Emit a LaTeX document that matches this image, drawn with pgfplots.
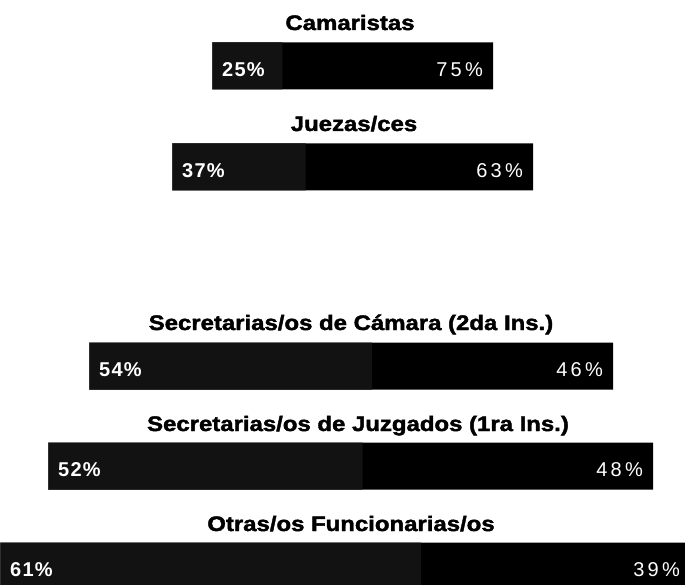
\documentclass[border=0pt]{standalone}
\usepackage{fontspec}
\setmainfont{Liberation Sans}
\newfontfamily\titlefont{Liberation Sans}[UprightFont={* Bold}, FakeStretch=1.14, FakeBold=2]
\newfontfamily\wfont{Liberation Sans}[UprightFont={* Bold}, LetterSpace=6]
\newfontfamily\mfont{Liberation Sans}[LetterSpace=16]
\usepackage{pgfplots}
\usepackage{pgfplotstable}
\pgfplotsset{compat=1.18}
% y: bar centre (px from top); left: left edge; lf: women/men boundary; right: right edge
\pgfplotstableread{
y   left  lf      right  pf  pm
66  212   282.25  493    25  75
167 172   305.57  533    37  63
366 89    371.96  613    54  46
466 48    362.6   653    52  48
566 0     420.9   690    61  39
}\bartab
\begin{document}
\begin{tikzpicture}
\begin{axis}[
  xbar, bar shift=0pt,
  bar width=47,
  scale only axis,
  width=690pt, height=585pt,
  xmin=0, xmax=690, ymin=0, ymax=585,
  y dir=reverse,
  hide axis,
  /pgf/number format/assume math mode=true,
]
% men segment (whole bar, black)
\addplot[draw=none, fill=black,
  point meta=explicit,
  nodes near coords={\pgfmathprintnumber[fixed,precision=0]{\pgfplotspointmeta}\%},
  every node near coord/.append style={anchor=east, xshift=-10pt, yshift=-4pt,
    text=white, font=\mfont\fontsize{20}{24}\selectfont, inner sep=0pt}]
  table[x=right, y=y, meta=pm] {\bartab};
% women segment
\addplot[draw=none, fill=black!93] table[x=lf, y=y] {\bartab};
% blank space left of each bar
\addplot[draw=none, fill=white, bar width=51,
  point meta=explicit,
  nodes near coords={\pgfmathprintnumber[fixed,precision=0]{\pgfplotspointmeta}\%},
  every node near coord/.append style={anchor=west, xshift=10pt, yshift=-4pt,
    text=white, font=\wfont\fontsize{20}{24}\selectfont, inner sep=0pt}]
  table[x=left, y=y, meta=pf] {\bartab};
\node[anchor=base, inner sep=0pt, font=\titlefont\fontsize{21}{24}\selectfont] at (axis cs:350,30) {Camaristas};
\node[anchor=base, inner sep=0pt, font=\titlefont\fontsize{21}{24}\selectfont] at (axis cs:354,131) {Juezas/ces};
\node[anchor=base, inner sep=0pt, font=\titlefont\fontsize{21}{24}\selectfont] at (axis cs:351,330) {Secretarias/os de Cámara (2da Ins.)};
\node[anchor=base, inner sep=0pt, font=\titlefont\fontsize{21}{24}\selectfont] at (axis cs:358,431) {Secretarias/os de Juzgados (1ra Ins.)};
\node[anchor=base, inner sep=0pt, font=\titlefont\fontsize{21}{24}\selectfont] at (axis cs:351,531) {Otras/os Funcionarias/os};
\end{axis}
\pgfresetboundingbox
\path[use as bounding box] (current axis.south west) rectangle ([xshift=-5pt]current axis.north east);
\end{tikzpicture}
\end{document}
